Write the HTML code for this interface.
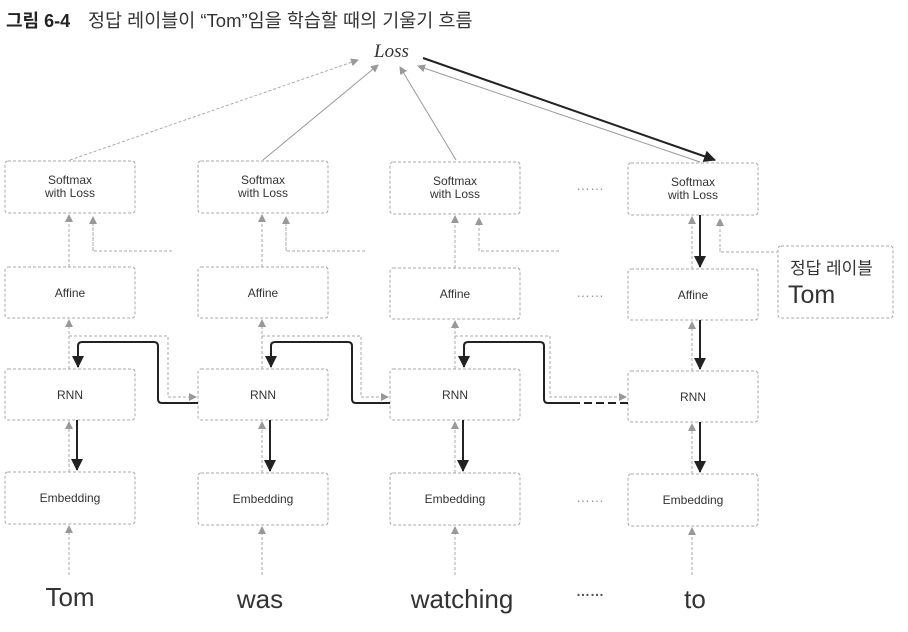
<!DOCTYPE html>
<html><head><meta charset="utf-8"><style>
body{margin:0;background:#fff;width:908px;height:632px;overflow:hidden}
svg{display:block}
text{font-family:"Liberation Sans","Noto Sans CJK KR",sans-serif;fill:#333}
.b{fill:#fff;stroke:#aaa;stroke-width:1;stroke-dasharray:3 2}
.g{stroke:#aaa;stroke-width:1;fill:none;stroke-dasharray:3 2}
.gs{stroke:#999;stroke-width:1;fill:none}
.k{stroke:#222;stroke-width:2;fill:none}
</style></head><body>
<svg width="908" height="632" viewBox="0 0 908 632">
<defs>
<marker id="ga" markerWidth="8" markerHeight="8" refX="7" refY="4" orient="auto" markerUnits="userSpaceOnUse"><path d="M0,0 L8,4 L0,8z" fill="#999"/></marker>
<marker id="ka" markerWidth="12" markerHeight="12" refX="11" refY="6" orient="auto" markerUnits="userSpaceOnUse"><path d="M0,0 L12,6 L0,12z" fill="#222"/></marker>
</defs>
<text x="6" y="27" font-size="18" font-weight="bold" style="fill:#222">그림 6-4</text>
<text x="88" y="27" font-size="18.5">정답 레이블이 “Tom”임을 학습할 때의 기울기 흐름</text>
<text x="374" y="57" font-size="19" font-style="italic" style="font-family:'Liberation Serif',serif">Loss</text>

<line x1="70" y1="160" x2="358" y2="60" class="g" marker-end="url(#ga)"/>
<line x1="263" y1="160" x2="378" y2="65" class="gs" marker-end="url(#ga)"/>
<line x1="456" y1="160" x2="400" y2="67" class="gs" marker-end="url(#ga)"/>
<line x1="700" y1="162" x2="418" y2="66" class="gs" marker-end="url(#ga)"/>
<line x1="423" y1="58" x2="715" y2="160" class="k" marker-end="url(#ka)"/>

<g>
<rect class="b" x="5" y="161" width="130" height="52" rx="3"/>
<rect class="b" x="198" y="161" width="130" height="52" rx="3"/>
<rect class="b" x="390" y="162" width="130" height="52" rx="3"/>
<rect class="b" x="628" y="163" width="130" height="52" rx="3"/>
<rect class="b" x="5" y="267" width="130" height="51" rx="3"/>
<rect class="b" x="198" y="267" width="130" height="51" rx="3"/>
<rect class="b" x="390" y="268" width="130" height="51" rx="3"/>
<rect class="b" x="628" y="269" width="130" height="51" rx="3"/>
<rect class="b" x="5" y="369" width="130" height="51" rx="3"/>
<rect class="b" x="198" y="369" width="130" height="51" rx="3"/>
<rect class="b" x="390" y="369" width="130" height="51" rx="3"/>
<rect class="b" x="628" y="371" width="130" height="51" rx="3"/>
<rect class="b" x="5" y="472" width="130" height="52" rx="3"/>
<rect class="b" x="198" y="473" width="130" height="52" rx="3"/>
<rect class="b" x="390" y="473" width="130" height="52" rx="3"/>
<rect class="b" x="628" y="474" width="130" height="52" rx="3"/>
<rect class="b" x="778" y="246" width="115" height="72" rx="3"/>
</g>
<g font-size="12" text-anchor="middle">
<text x="70" y="184">Softmax</text><text x="70" y="197">with Loss</text>
<text x="263" y="184">Softmax</text><text x="263" y="197">with Loss</text>
<text x="455" y="185">Softmax</text><text x="455" y="198">with Loss</text>
<text x="693" y="186">Softmax</text><text x="693" y="199">with Loss</text>
<text x="70" y="297">Affine</text><text x="263" y="297">Affine</text><text x="455" y="298">Affine</text><text x="693" y="299">Affine</text>
<text x="70" y="399">RNN</text><text x="263" y="399">RNN</text><text x="455" y="399">RNN</text><text x="693" y="401">RNN</text>
<text x="70" y="502">Embedding</text><text x="263" y="503">Embedding</text><text x="455" y="503">Embedding</text><text x="693" y="504">Embedding</text>
</g>
<text x="790" y="274" font-size="17">정답 레이블</text>
<text x="788" y="303" font-size="25">Tom</text>
<g font-size="26" text-anchor="middle">
<text x="70" y="606">Tom</text><text x="260" y="608">was</text><text x="462" y="608">watching</text><text x="695" y="608">to</text>
</g>
<g font-size="14" text-anchor="middle">
<text x="590" y="190" style="fill:#999">……</text><text x="590" y="297" style="fill:#999">……</text>
<text x="590" y="502" style="fill:#999">……</text><text x="590" y="596" style="fill:#555;font-weight:bold">……</text>
</g>

<g class="g">
<line x1="69" y1="267" x2="69" y2="215" marker-end="url(#ga)"/>
<line x1="262" y1="267" x2="262" y2="215" marker-end="url(#ga)"/>
<line x1="455" y1="268" x2="455" y2="216" marker-end="url(#ga)"/>
<line x1="692" y1="269" x2="692" y2="217" marker-end="url(#ga)"/>
<line x1="69" y1="369" x2="69" y2="320" marker-end="url(#ga)"/>
<line x1="262" y1="369" x2="262" y2="320" marker-end="url(#ga)"/>
<line x1="455" y1="369" x2="455" y2="321" marker-end="url(#ga)"/>
<line x1="692" y1="371" x2="692" y2="322" marker-end="url(#ga)"/>
<line x1="69" y1="472" x2="69" y2="422" marker-end="url(#ga)"/>
<line x1="262" y1="473" x2="262" y2="422" marker-end="url(#ga)"/>
<line x1="455" y1="473" x2="455" y2="422" marker-end="url(#ga)"/>
<line x1="692" y1="474" x2="692" y2="424" marker-end="url(#ga)"/>
<line x1="69" y1="575" x2="69" y2="526" marker-end="url(#ga)"/>
<line x1="262" y1="575" x2="262" y2="527" marker-end="url(#ga)"/>
<line x1="455" y1="575" x2="455" y2="527" marker-end="url(#ga)"/>
<line x1="692" y1="575" x2="692" y2="528" marker-end="url(#ga)"/>
<path d="M93,217 V251 H172"/>
<path d="M286,217 V251 H365"/>
<path d="M479,218 V251 H560"/>
<path d="M720,248 V252 H778"/>
<path d="M720,252 V219" marker-end="url(#ga)"/>
<path d="M93,251 V217" marker-end="url(#ga)"/>
<path d="M286,251 V217" marker-end="url(#ga)"/>
<path d="M479,251 V218" marker-end="url(#ga)"/>
<path d="M69,336 H168 V397 H196" marker-end="url(#ga)"/>
<path d="M262,336 H361 V397 H388" marker-end="url(#ga)"/>
<path d="M455,336 H550 V397 H626" marker-end="url(#ga)"/>
</g>
<g class="k">
<line x1="700" y1="215" x2="700" y2="267" marker-end="url(#ka)"/>
<line x1="700" y1="320" x2="700" y2="369" marker-end="url(#ka)"/>
<line x1="700" y1="422" x2="700" y2="472" marker-end="url(#ka)"/>
<line x1="463" y1="420" x2="463" y2="471" marker-end="url(#ka)"/>
<line x1="270" y1="420" x2="270" y2="471" marker-end="url(#ka)"/>
<line x1="77" y1="420" x2="77" y2="470" marker-end="url(#ka)"/>
<path d="M628,403 H578" stroke-dasharray="8 4"/>
<path d="M580,403 H548 Q544,403 544,399 V346 Q544,342 540,342 H468 Q464,342 464,346 V367" marker-end="url(#ka)"/>
<path d="M390,403 H356 Q352,403 352,399 V346 Q352,342 348,342 H275 Q271,342 271,346 V367" marker-end="url(#ka)"/>
<path d="M198,403 H162 Q158,403 158,399 V346 Q158,342 154,342 H82 Q78,342 78,346 V367" marker-end="url(#ka)"/>
</g>
</svg>
</body></html>
